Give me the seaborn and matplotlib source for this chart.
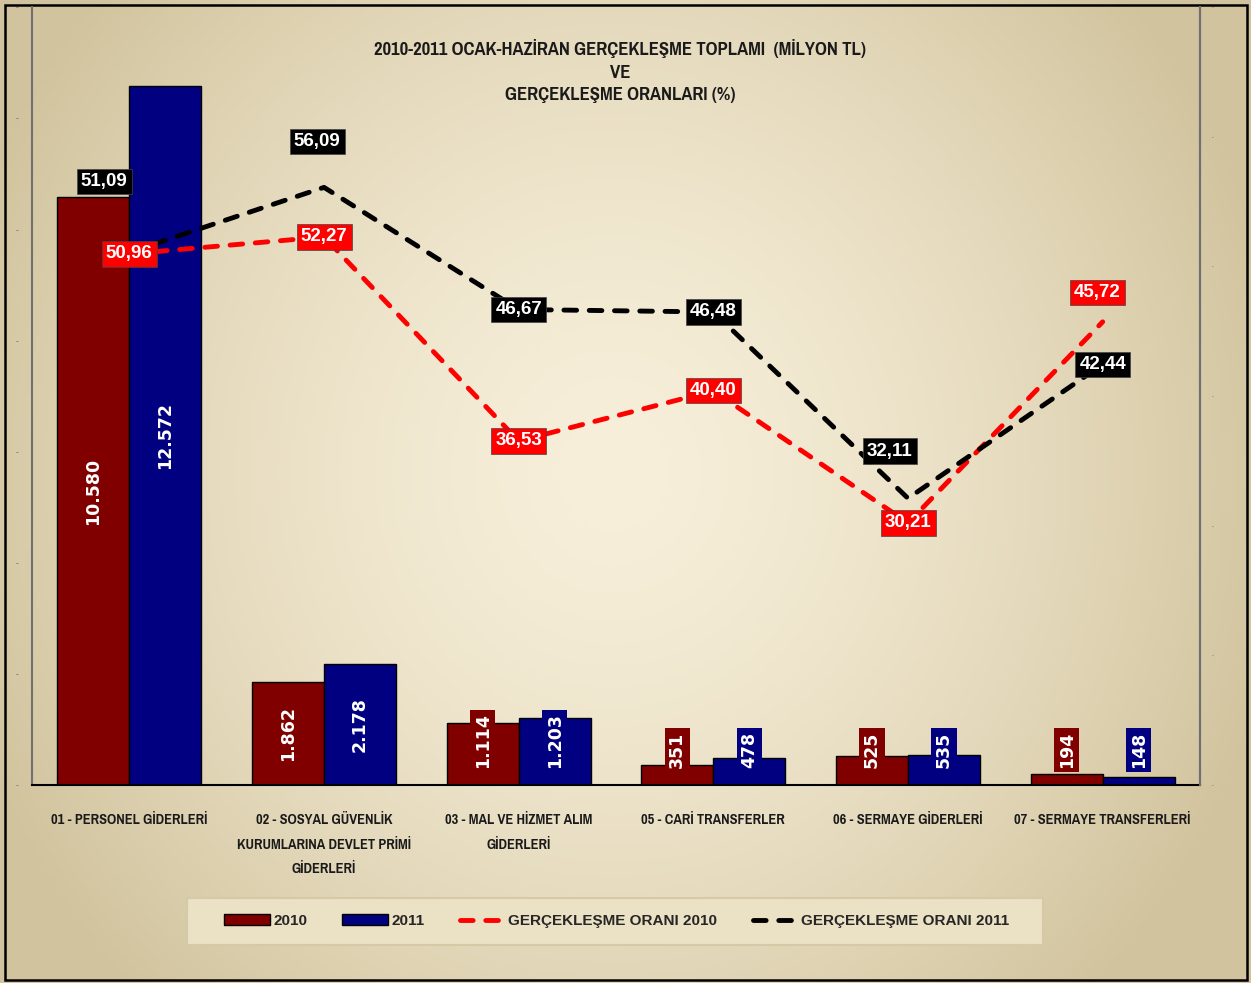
import numpy as np
import pandas as pd
import matplotlib
matplotlib.use("Agg")
import matplotlib.pyplot as plt
import matplotlib.patches as mpatches
import seaborn as sns

## Data
kategoriler = ["01 - PERSONEL GİDERLERİ",
               "02 - SOSYAL GÜVENLİK\nKURUMLARINA DEVLET PRİMİ\nGİDERLERİ",
               "03 - MAL VE HİZMET ALIM\nGİDERLERİ",
               "05 - CARİ TRANSFERLER",
               "06 - SERMAYE GİDERLERİ",
               "07 - SERMAYE TRANSFERLERİ"]
toplam_2010 = [10580, 1862, 1114, 351, 525, 194]
toplam_2011 = [12572, 2178, 1203, 478, 535, 148]
oran_2010 = [50.96, 52.27, 36.53, 40.40, 30.21, 45.72]
oran_2011 = [51.09, 56.09, 46.67, 46.48, 32.11, 42.44]
yillar = ["2010", "2011"]

baslik = ("2010-2011 OCAK-HAZİRAN GERÇEKLEŞME TOPLAMI  (MİLYON TL)\nVE\n"
          "GERÇEKLEŞME ORANLARI (%)")

# label offsets (points) for the rate labels
ofs_2010 = [(0, 0), (0, 0), (0, 0), (0, 0), (0, 0), (-4, 21)]
ofs_2011 = [(-18, 51), (-5, 33), (0, 0), (0, 0), (-13, 34), (0, 0)]

renk_bar = {"2010": "#800000", "2011": "#000080"}
NARROW = ["Pragati Narrow", "Roboto Condensed", "Liberation Sans", "DejaVu Sans"]

veri = pd.DataFrame({
    "kategori": kategoriler * 2,
    "yil": ["2010"] * 6 + ["2011"] * 6,
    "deger": toplam_2010 + toplam_2011,
})

sns.set_style("white")
plt.rcParams["font.family"] = ["Liberation Sans", "DejaVu Sans"]

fig = plt.figure(figsize=(12.51, 9.83), dpi=100)

## Background gradient
bg = fig.add_axes([0, 0, 1, 1], zorder=-10)
yy, xx = np.mgrid[0:1:300j, 0:1:380j]
d = np.sqrt(((xx - 0.49) / 0.55) ** 2 + ((yy - 0.52) / 0.75) ** 2)
t = np.clip(d, 0, 1) ** 1.5
merkez = np.array([247, 239, 218]) / 255
kenar = np.array([209, 195, 157]) / 255
img = merkez[None, None, :] * (1 - t[..., None]) + kenar[None, None, :] * t[..., None]
bg.imshow(img, extent=[0, 1, 0, 1], aspect="auto", origin="lower")
bg.set_xlim(0, 1)
bg.set_ylim(0, 1)
bg.axis("off")
bg.add_patch(mpatches.Rectangle((5 / 1251, 3 / 983), 1242 / 1251, 975 / 983,
                                fill=False, edgecolor="black", lw=1.8,
                                transform=bg.transAxes))
# legend box
bg.add_patch(mpatches.Rectangle((187 / 1251, 1 - 945 / 983), 856 / 1251, 47 / 983,
                                facecolor="#ebe1c4", edgecolor="#d6c9a5", lw=1.5,
                                transform=bg.transAxes))

## Bars
ax = fig.add_axes([32 / 1251, 1 - 785 / 983, 1168 / 1251, 778 / 983])
ax.set_facecolor("none")
sns.barplot(data=veri, x="kategori", y="deger", hue="yil", hue_order=yillar,
            palette=renk_bar, width=0.74, gap=0, saturation=1,
            edgecolor="black", linewidth=1, ax=ax)
handles, labels = ax.get_legend_handles_labels()
ax.get_legend().remove()
ax.set_ylim(0, 14000)
ax.set_xlim(-0.5, 5.5)
ax.set_xlabel("")
ax.set_ylabel("")

for cont, yil in zip(ax.containers, yillar):
    for bar in cont:
        h = bar.get_height()
        x = bar.get_x() + bar.get_width() / 2
        txt = f"{int(h):,}".replace(",", ".")
        if h > 1500:
            yy_, va = h / 2, "center"
        else:
            yy_, va = 300, "bottom"
        ax.text(x, yy_, txt, rotation=90, ha="center", va=va, color="white",
                fontsize=12.5, fontweight="bold", family="DejaVu Sans",
                bbox=dict(boxstyle="square,pad=0.22", fc=renk_bar[yil], ec="none"))

ax.set_xticks(range(6))
ax.set_xticklabels(kategoriler, family=NARROW, fontweight="bold", fontsize=11.3,
                   linespacing=1.95, va="top", color="#1a1a1a")
ax.set_xticks(np.arange(-0.5, 6, 1), minor=True)
ax.tick_params(axis="x", which="major", length=0, pad=20.5)
ax.tick_params(axis="x", which="minor", length=9, width=1, direction="inout", color="black")
ax.set_yticks(np.arange(0, 14001, 2000))
ax.set_yticklabels(["-"] * 8, fontsize=6, color="#6b5040")
ax.tick_params(axis="y", length=0, pad=10)

ax.spines["top"].set_visible(False)
ax.spines["left"].set_color("#707070")
ax.spines["left"].set_linewidth(1.5)
ax.spines["right"].set_color("#707070")
ax.spines["right"].set_linewidth(1.5)
ax.spines["bottom"].set_color("black")
ax.spines["bottom"].set_linewidth(1.5)

## Rate lines
ax2 = ax.twinx()
ax2.set_facecolor("none")
xpos = np.arange(6)
sns.lineplot(x=xpos, y=oran_2010, color="#ff0000", linewidth=3.5,
             linestyle=(0, (2.6, 2.6)), dash_capstyle="round",
             label="GERÇEKLEŞME ORANI 2010", ax=ax2)
sns.lineplot(x=xpos, y=oran_2011, color="black", linewidth=3.5,
             linestyle=(0, (2.6, 2.6)), dash_capstyle="round",
             label="GERÇEKLEŞME ORANI 2011", ax=ax2)
h2, l2 = ax2.get_legend_handles_labels()
ax2.get_legend().remove()
ax2.set_ylim(10, 70)
ax2.set_xlim(-0.5, 5.5)
ax2.set_yticks(np.arange(10, 71, 10))
ax2.set_yticklabels(["·"] * 7, fontsize=8, color="#8a6a5a")
ax2.tick_params(axis="y", length=0, pad=8)
for s in ["top", "left", "bottom"]:
    ax2.spines[s].set_visible(False)
ax2.spines["right"].set_color("#707070")
ax2.spines["right"].set_linewidth(1.5)

for degerler, ofs, fc in [(oran_2011, ofs_2011, "black"), (oran_2010, ofs_2010, "#ff0000")]:
    for i, v in enumerate(degerler):
        ax2.annotate(f"{v:.2f}".replace(".", ","), (i, v), xytext=ofs[i],
                     textcoords="offset points", ha="center", va="center",
                     color="white", fontsize=13.5, fontweight="bold",
                     bbox=dict(boxstyle="square,pad=0.22", fc=fc, ec="#444444", lw=0.5),
                     zorder=5)

## Title
fig.text(620 / 1251, 1 - 71 / 983, baslik, ha="center", va="center",
         family=NARROW, fontweight="bold", fontsize=14.6, linespacing=1.52,
         color="#1a1a1a")

## Legend
leg = fig.legend(handles + h2, labels + l2, loc="center",
                 bbox_to_anchor=(617 / 1251, 1 - 921 / 983), ncol=4,
                 frameon=False, handlelength=3, handleheight=0.7,
                 handletextpad=0.2, columnspacing=2.3,
                 prop=dict(weight="bold", size=11))

fig.savefig("out.png", dpi=100)
